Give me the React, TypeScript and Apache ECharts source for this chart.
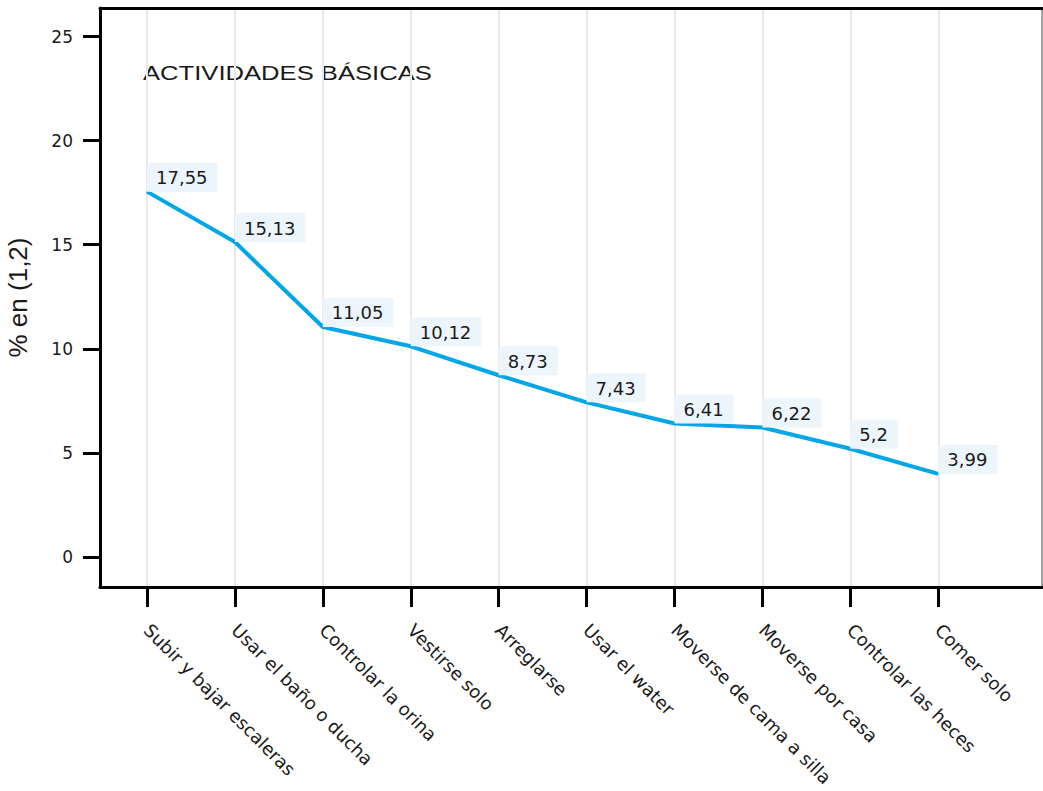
import React, { useEffect, useRef } from "react";
import * as echarts from "echarts";

const categories = [
  "Subir y bajar escaleras",
  "Usar el baño o ducha",
  "Controlar la orina",
  "Vestirse solo",
  "Arreglarse",
  "Usar el water",
  "Moverse de cama a silla",
  "Moverse por casa",
  "Controlar las heces",
  "Comer solo",
];
const values = [17.55, 15.13, 11.05, 10.12, 8.73, 7.43, 6.41, 6.22, 5.2, 3.99];
const yTicks = [0, 5, 10, 15, 20, 25];
const xTicks = categories.map((_, i) => i);
const title = "ACTIVIDADES BÁSICAS";
const yName = "% en (1,2)";

const FONT = "'Liberation Sans', Arial, Helvetica, sans-serif";
const WIDE = "'DejaVu Sans', Verdana, sans-serif";
const TEXT = "#1a1a1a";
const LINE = "#00a6e6";

export default function App() {
  const ref = useRef<HTMLDivElement>(null);
  useEffect(() => {
    if (!ref.current) return;
    const chart = echarts.init(ref.current, null, { renderer: "svg" });
    const option: any = {
      animation: false,
      backgroundColor: "#ffffff",
      textStyle: { fontFamily: FONT },
      grid: {
        left: 100,
        right: 1,
        top: 8,
        bottom: 204,
        show: true,
        borderColor: "#444",
        borderWidth: 1,
        backgroundColor: "transparent",
        containLabel: false,
        outerBoundsMode: "none",
      },
      xAxis: [
        {
          type: "value",
          min: -0.535,
          max: 10.18,
          position: "bottom",
          axisLine: { show: true, onZero: false, lineStyle: { color: "#000", width: 3 } },
          axisTick: {
            show: true,
            customValues: xTicks,
            length: 20,
            lineStyle: { color: "#000", width: 3 },
          },
          splitLine: { show: true, lineStyle: { color: "#e8e8e8", width: 2 } },
          axisLabel: {
            customValues: xTicks,
            rotate: -45,
            margin: 40,
            fontSize: 18,
            color: TEXT,
            fontFamily: WIDE,
            formatter: (v: number) => categories[Math.round(v)] ?? "",
          },
        },
        {
          type: "value",
          min: -0.535,
          max: 10.18,
          position: "top",
          axisLine: { show: true, onZero: false, lineStyle: { color: "#000", width: 3 } },
          axisTick: { show: false },
          axisLabel: { show: false },
          splitLine: { show: false },
        },
      ],
      yAxis: {
        type: "value",
        min: -1.44,
        max: 26.37,
        name: yName,
        nameLocation: "middle",
        nameGap: 69,
        nameRotate: 90,
        nameTextStyle: { fontSize: 26, color: TEXT, fontFamily: FONT },
        axisLine: { show: true, onZero: false, lineStyle: { color: "#000", width: 3 } },
        axisTick: {
          show: true,
          customValues: yTicks,
          length: 17,
          lineStyle: { color: "#000", width: 3 },
        },
        splitLine: { show: false },
        axisLabel: {
          customValues: yTicks,
          margin: 27,
          fontSize: 17,
          color: TEXT,
          fontFamily: WIDE,
        },
      },
      graphic: [
        {
          type: "text",
          left: 143,
          top: 62,
          scaleX: 1.22,
          style: {
            text: title,
            fontSize: 21,
            fontFamily: FONT,
            fill: TEXT,
          },
        },
      ],
      series: [
        {
          type: "line",
          data: values.map((v, i) => [i, v]),
          xAxisIndex: 0,
          symbol: "circle",
          symbolSize: 1,
          showSymbol: true,
          itemStyle: { color: LINE },
          lineStyle: { color: LINE, width: 4 },
          z: 3,
          label: {
            show: true,
            position: [0.5, 0.5],
            align: "left",
            verticalAlign: "bottom",
            backgroundColor: "#edf5fc",
            padding: [6, 10, 5, 9],
            fontSize: 18,
            color: TEXT,
            fontFamily: WIDE,
            formatter: (p: any) => String(p.value[1]).replace(".", ","),
          },
        },
      ],
    };
    chart.setOption(option);
    return () => chart.dispose();
  }, []);
  return (
    <div
      ref={ref}
      style={{ position: "fixed", left: 0, top: 0, width: 1043, height: 791, background: "#fff" }}
    />
  );
}
